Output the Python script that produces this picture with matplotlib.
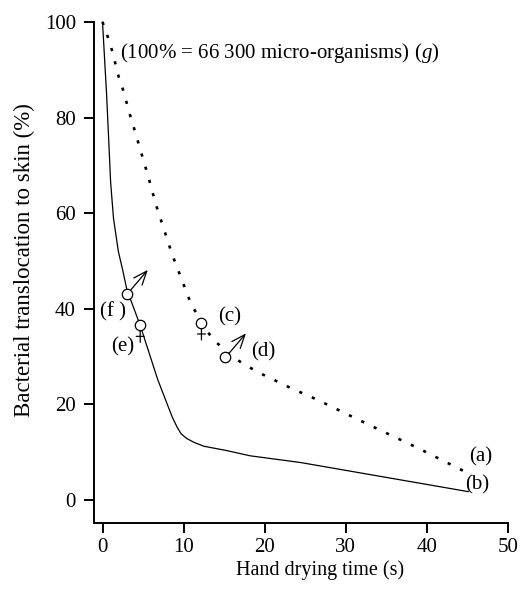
import matplotlib
matplotlib.use("Agg")
import matplotlib.pyplot as plt
from matplotlib.transforms import offset_copy

plt.rcParams['font.family'] = ['Liberation Serif', 'DejaVu Serif']
plt.rcParams['mathtext.fontset'] = 'custom'
plt.rcParams['mathtext.it'] = 'Liberation Serif:italic'
plt.rcParams['mathtext.rm'] = 'Liberation Serif'

# curve (a), dotted
a_time = [0, 0.65, 1.2, 2.0, 2.5, 3.4, 3.9, 4.8, 5.7, 6.6, 7.6, 8.6, 10.8, 12.2,
          13.5, 15.5, 17.8, 19.9, 23.2, 26.4, 32.6, 38.8, 44.9]
a_pct = [100, 96.9, 93.9, 88.5, 86, 80.5, 77.7, 72.5, 67.3, 61.7, 56.5, 51.3, 41.5,
         37.0, 33.9, 30.5, 28.0, 26.1, 23.4, 21.0, 15.9, 10.9, 5.7]

# curve (b), solid
b_time = [0, 0.5, 0.8, 1.0, 1.35, 1.95, 2.5, 3.0, 4.65, 6.8, 8.6, 9.2, 9.7, 10.4,
          11.3, 12.5, 15.3, 18.2, 24.4, 45.1]
b_pct = [100, 85, 74, 66.5, 59, 52, 48, 44, 36.5, 25.2, 17.3, 15.2, 13.8, 12.8,
         12.0, 11.2, 10.3, 9.2, 7.8, 1.7]

# single measurements
fem_time = [12.2, 4.65]   # (c), (e)
fem_pct = [37.0, 36.5]
male_time = [15.1, 3.0]   # (d), (f)
male_pct = [29.8, 43.1]

labels = ['(a)', '(b)', '(c)', '(d)', '(e)', '(f )']
label_x = [46.6, 46.2, 15.7, 19.8, 2.5, 1.3]
label_y = [8.9, 3.2, 38.2, 31.0, 32.0, 39.3]

note = '(100% = 66 300 micro-organisms) ($\\it{g}$)'

fig = plt.figure(figsize=(5.21, 5.89), dpi=100)
ax = fig.add_axes([0.1804, 0.1126, 0.7946, 0.8500])

ax.plot(a_time, a_pct, color='black', lw=1.9, ls=(0, (1.2, 4.0)),
        dash_capstyle='butt', clip_on=False)
ax.plot(b_time, b_pct, color='black', lw=0.9, clip_on=False)

ax.plot(fem_time, fem_pct, 'o', ms=7.5, mfc='white', mec='black', mew=0.9, zorder=5)
ax.plot(male_time, male_pct, 'o', ms=7.5, mfc='white', mec='black', mew=0.9, zorder=5)


def seg(x, y, x0, y0, x1, y1, style='-'):
    # line between two pixel offsets around a data point
    ax.annotate('', xy=(x, y), xycoords=offset_copy(ax.transData, fig, x=x1, y=y1, units='dots'),
                xytext=(x, y), textcoords=offset_copy(ax.transData, fig, x=x0, y=y0, units='dots'),
                arrowprops=dict(arrowstyle=style, lw=0.9, color='black', shrinkA=0, shrinkB=0,
                                mutation_scale=14))


# female sign: stem and cross below the circle
for x, y in zip(fem_time, fem_pct):
    seg(x, y, 0, -5.5, 0, -17)
    seg(x, y, -4, -11, 4, -11)

# male sign: arrow to the upper right
for x, y in zip(male_time, male_pct):
    seg(x, y, 4, 4, 21, 24, '->,head_length=0.7,head_width=0.28')

for t, x, y in zip(labels, label_x, label_y):
    ax.text(x, y, t, fontsize=15, ha='center', va='center')

ax.text(2.1, 93.5, note, fontsize=15, ha='left', va='center')

ax.set_xlim(-1.05, 50)
ax.set_ylim(-4.8, 100)
ax.set_xticks([0, 10, 20, 30, 40, 50])
ax.set_yticks([0, 20, 40, 60, 80, 100])
ax.spines['top'].set_visible(False)
ax.spines['right'].set_visible(False)
for s in ['left', 'bottom']:
    ax.spines[s].set_linewidth(1.4)
ax.tick_params(direction='out', length=7, width=1.4, labelsize=15, pad=6)
ax.tick_params(axis='x', pad=4)

ax.set_xlabel('Hand drying time (s)', fontsize=14.5)
ax.set_ylabel('Bacterial translocation to skin (%)', fontsize=16.5)
ax.xaxis.set_label_coords(0.546, -0.076)
ax.yaxis.set_label_coords(-0.142, 0.525)

fig.savefig('out.png', dpi=100)
